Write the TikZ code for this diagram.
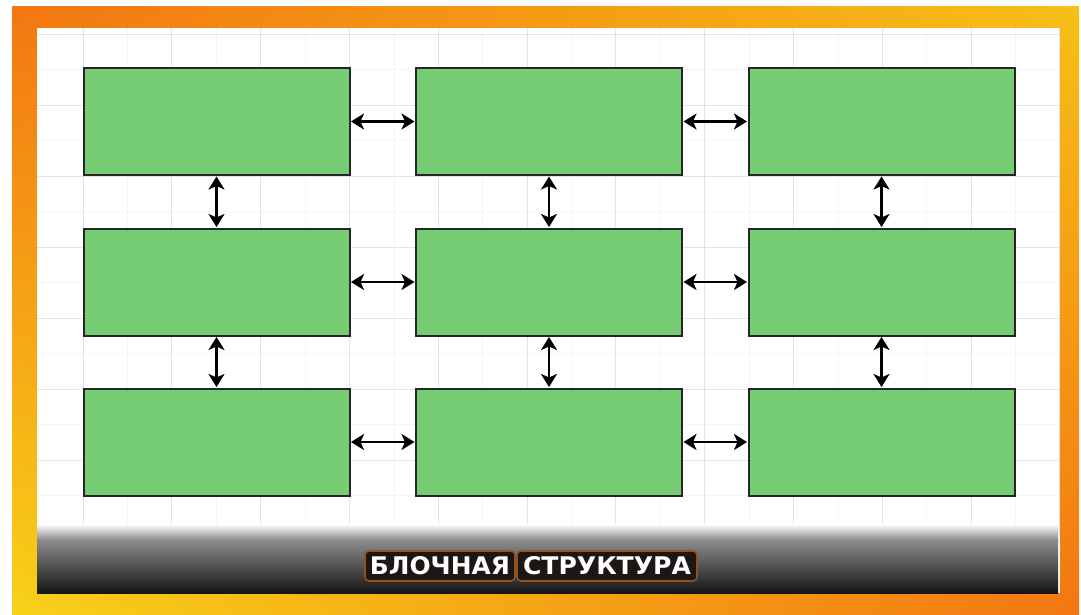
\documentclass[tikz,border=0pt]{standalone}
\usepackage{fontspec}
\newfontfamily\titlefont{DejaVu Sans}
\usetikzlibrary{arrows.meta,shadings}
\definecolor{boxgreen}{RGB}{119,205,116}
\definecolor{frameorange}{RGB}{243,118,18}
\definecolor{frameyellow}{RGB}{248,210,24}
\definecolor{titleedge}{RGB}{150,80,30}
\definecolor{titlefill}{RGB}{28,22,20}
\begin{document}
\begin{tikzpicture}[x=1pt,y=-1pt,
  blockbox/.style={draw=black!85, fill=boxgreen, line width=2pt,
    minimum width=266pt, minimum height=107pt, inner sep=0pt},
  biarrow/.style={{Stealth[length=13pt,width=16pt,inset=3.5pt]}-{Stealth[length=13pt,width=16pt,inset=3.5pt]},
    line width=2.8pt, black, shorten <=0.5pt, shorten >=0.5pt},
  gridmajor/.style={draw=black!11, line width=0.8pt},
  gridminor/.style={draw=black!4, line width=0.5pt},
  titlebox/.style={fill=titlefill, draw=titleedge, line width=1.6pt,
    rounded corners=4pt, inner sep=0pt, text=white}]
\useasboundingbox (0,0) rectangle (1081,615);
\fill[white] (0,0) rectangle (1081,615);
% frame
\shade[upper left=frameorange, upper right=frameyellow!80!frameorange,
       lower left=frameyellow, lower right=frameorange] (12,7) rectangle (1079,615);
\fill[white] (37,28) rectangle (1060,593);
% grid
\foreach \i in {0,...,10} {
  \draw[gridminor] ({83+\i*88.8+44.4},28) -- ({83+\i*88.8+44.4},535);
}
\foreach \j in {0,...,7} {
  \draw[gridminor] (37,{34+\j*71+35.5}) -- (1060,{34+\j*71+35.5});
}
\foreach \i in {0,...,11} {
  \draw[gridmajor] ({83+\i*88.8},28) -- ({83+\i*88.8},535);
}
\foreach \j in {0,...,7} {
  \draw[gridmajor] (37,{34+\j*71}) -- (1060,{34+\j*71});
}
% dark band
\shade[top color=white, bottom color=black!45] (37,524) rectangle (1058,540);
\shade[top color=black!45, bottom color=black!92] (37,540) rectangle (1058,593);
% blocks
\node[blockbox] (b11) at (216.5,121.5) {};
\node[blockbox] (b12) at (549,121.5) {};
\node[blockbox] (b13) at (881.5,121.5) {};
\node[blockbox] (b21) at (216.5,282) {};
\node[blockbox] (b22) at (549,282) {};
\node[blockbox] (b23) at (881.5,282) {};
\node[blockbox] (b31) at (216.5,442) {};
\node[blockbox] (b32) at (549,442) {};
\node[blockbox] (b33) at (881.5,442) {};
% arrows
\draw[biarrow] (b11.east) -- (b12.west);
\draw[biarrow] (b12.east) -- (b13.west);
\draw[biarrow] (b21.east) -- (b22.west);
\draw[biarrow] (b22.east) -- (b23.west);
\draw[biarrow] (b31.east) -- (b32.west);
\draw[biarrow] (b32.east) -- (b33.west);
\draw[biarrow] (b11.south) -- (b21.north);
\draw[biarrow] (b12.south) -- (b22.north);
\draw[biarrow] (b13.south) -- (b23.north);
\draw[biarrow] (b21.south) -- (b31.north);
\draw[biarrow] (b22.south) -- (b32.north);
\draw[biarrow] (b23.south) -- (b33.north);
% title
\node[titlebox, minimum width=150pt, minimum height=30pt] (t1) at (440,566)
  {\resizebox{140pt}{18pt}{\titlefont\bfseries БЛОЧНАЯ}};
\node[titlebox, minimum width=180pt, minimum height=30pt] (t2) at (607,566)
  {\resizebox{168pt}{18pt}{\titlefont\bfseries СТРУКТУРА}};
\end{tikzpicture}
\end{document}
